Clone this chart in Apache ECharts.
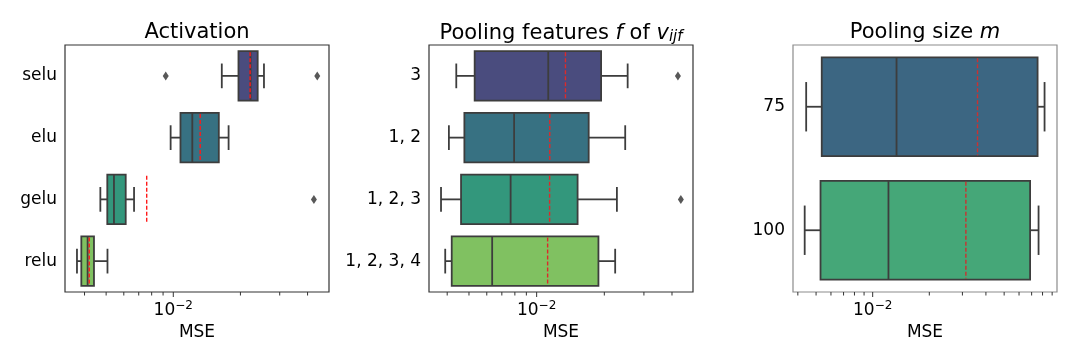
<!DOCTYPE html>
<html>
<head>
<meta charset="utf-8">
<script src="https://cdn.jsdelivr.net/npm/echarts@6/dist/echarts.min.js"></script>
<style>
html, body { margin: 0; background: #fff; }
#chart { width: 1076px; height: 354px; }
</style>
</head>
<body>
<div id="chart"></div>
<script>
// --- Activation ---
const actCats = ['selu', 'elu', 'gelu', 'relu'];
const actLow  = [1.65e-2, 9.73e-3, 4.71e-3, 3.70e-3];
const actQ1   = [1.96e-2, 1.077e-2, 5.06e-3, 3.87e-3];
const actMed  = [2.22e-2, 1.217e-2, 5.42e-3, 4.13e-3];
const actQ3   = [2.39e-2, 1.60e-2, 6.12e-3, 4.41e-3];
const actHigh = [2.55e-2, 1.77e-2, 6.67e-3, 5.07e-3];
const actMean = [2.21e-2, 1.32e-2, 7.6e-3, 4.2e-3];
const actOut  = [['selu', 9.25e-3], ['selu', 4.42e-2], ['gelu', 4.27e-2]];

// --- Pooling features ---
const featCats = ['3', '1, 2', '1, 2, 3', '1, 2, 3, 4'];
const featLow  = [4.39e-3, 4.07e-3, 3.755e-3, 3.92e-3];
const featQ1   = [5.30e-3, 4.77e-3, 4.61e-3, 4.19e-3];
const featMed  = [1.126e-2, 7.94e-3, 7.66e-3, 6.34e-3];
const featQ3   = [1.935e-2, 1.704e-2, 1.521e-2, 1.883e-2];
const featHigh = [2.54e-2, 2.477e-2, 2.275e-2, 2.235e-2];
const featMean = [1.343e-2, 1.144e-2, 1.142e-2, 1.119e-2];
const featOut  = [['3', 4.25e-2], ['1, 2, 3', 4.38e-2]];

// --- Pooling size ---
const sizeCats = ['75', '100'];
const sizeLow  = [4.43e-3, 4.35e-3];
const sizeQ1   = [5.36e-3, 5.28e-3];
const sizeMed  = [1.339e-2, 1.213e-2];
const sizeQ3   = [7.53e-2, 6.87e-2];
const sizeHigh = [8.2e-2, 7.62e-2];
const sizeMean = [3.61e-2, 3.13e-2];

// tick values of the log axes
const majorTicks = [0.01];
const minorTicks = [0.004, 0.005, 0.006, 0.007, 0.008, 0.009, 0.02, 0.03, 0.04, 0.05, 0.06, 0.07, 0.08, 0.09];

const pal4 = ['#4a4c7e', '#377182', '#33977c', '#80c161'];
const pal2 = ['#3c6682', '#45a778'];
const edge = '#3d3d3d';
const FONT = 'DejaVu Sans';

const panels = [
  { cats: actCats, low: actLow, q1: actQ1, med: actMed, q3: actQ3, high: actHigh, mean: actMean, out: actOut,
    colors: pal4, meanColor: '#ff1a1a', min: 3.27e-3, max: 4.99e-2, left: 65, spine: '#333' },
  { cats: featCats, low: featLow, q1: featQ1, med: featMed, q3: featQ3, high: featHigh, mean: featMean, out: featOut,
    colors: pal4, meanColor: '#dd2a2a', min: 3.32e-3, max: 4.96e-2, left: 429, spine: '#333' },
  { cats: sizeCats, low: sizeLow, q1: sizeQ1, med: sizeMed, q3: sizeQ3, high: sizeHigh, mean: sizeMean, out: [],
    colors: pal2, meanColor: '#cc3030', min: 3.77e-3, max: 9.55e-2, left: 793, spine: '#8c8c8c' }
];

function boxRenderer(p) {
  return function (params, api) {
    const y = api.value(0);
    const band = api.size([0, 1], [0.01, y])[1];
    const h = band * 0.8, cap = h / 2;
    const xs = [1, 2, 3, 4, 5, 6].map(function (d) { return api.coord([api.value(d), y])[0]; });
    const cy = api.coord([0.01, y])[1];
    const top = cy - h / 2, bot = cy + h / 2;
    const ln = { stroke: edge, lineWidth: 1.8 };
    return {
      type: 'group',
      children: [
        { type: 'line', shape: { x1: xs[0], y1: cy, x2: xs[1], y2: cy }, style: ln },
        { type: 'line', shape: { x1: xs[3], y1: cy, x2: xs[4], y2: cy }, style: ln },
        { type: 'line', shape: { x1: xs[0], y1: cy - cap / 2, x2: xs[0], y2: cy + cap / 2 }, style: ln },
        { type: 'line', shape: { x1: xs[4], y1: cy - cap / 2, x2: xs[4], y2: cy + cap / 2 }, style: ln },
        { type: 'rect', shape: { x: xs[1], y: top, width: xs[3] - xs[1], height: h },
          style: { fill: p.colors[params.dataIndex], stroke: edge, lineWidth: 1.8 } },
        { type: 'line', shape: { x1: xs[2], y1: top, x2: xs[2], y2: bot }, style: ln },
        { type: 'line', shape: { x1: xs[5], y1: top + 1, x2: xs[5], y2: bot - 1 },
          style: { stroke: p.meanColor, lineWidth: 1.4, lineDash: [4, 2] } }
      ]
    };
  };
}

function tickRenderer(params, api) {
  const major = api.value(1);
  const x = api.coord([api.value(0), 0])[0];
  const yb = params.coordSys.y + params.coordSys.height;
  return { type: 'line', shape: { x1: x, y1: yb, x2: x, y2: yb + (major ? 5 : 3.5) },
    style: { stroke: '#333', lineWidth: 1 } };
}

const option = { animation: false, title: [], grid: [], xAxis: [], yAxis: [], series: [] };
const titles = [
  'Activation',
  '{n|Pooling features }{i|f}{n| of }{i|v}{sub|ijf}',
  '{n|Pooling size }{i|m}'
];

panels.forEach(function (p, k) {
  option.title.push({
    text: titles[k], left: p.left + 132, top: 22, textAlign: 'center', padding: 0,
    textStyle: {
      fontFamily: FONT, fontSize: 21, fontWeight: 'normal', color: '#000',
      rich: {
        n: { fontFamily: FONT, fontSize: 21, color: '#000' },
        i: { fontFamily: FONT, fontSize: 21, fontStyle: 'italic', color: '#000' },
        sub: { fontFamily: FONT, fontSize: 15, fontStyle: 'italic', color: '#000', padding: [8, 0, 0, 0] }
      }
    }
  });
  option.grid.push({ left: p.left, top: 45, width: 264, height: 247, show: true,
    borderColor: p.spine, borderWidth: 1.2, backgroundColor: '#fff' });
  option.xAxis.push({
    type: 'log', logBase: 10, gridIndex: k, min: p.min, max: p.max,
    name: 'MSE', nameLocation: 'middle', nameGap: 27,
    nameTextStyle: { fontFamily: FONT, fontSize: 17, color: '#000' },
    axisLine: { show: false }, axisTick: { show: false }, splitLine: { show: false },
    axisLabel: {
      margin: 8,
      formatter: function (v) { return Math.abs(Math.log10(v) + 2) < 1e-6 ? '{b|10}{s|\u22122}' : ''; },
      rich: {
        b: { fontFamily: FONT, fontSize: 17, color: '#000' },
        s: { fontFamily: FONT, fontSize: 12, color: '#000', padding: [0, 0, 9, 0] }
      }
    }
  });
  option.yAxis.push({
    type: 'category', gridIndex: k, data: p.cats, inverse: true,
    axisLine: { show: false }, splitLine: { show: false },
    axisTick: { alignWithLabel: true, length: 5, lineStyle: { color: '#333' } },
    axisLabel: { margin: 8, fontFamily: FONT, fontSize: 17, color: '#000' }
  });
  const boxData = p.cats.map(function (c, i) {
    return [i, p.low[i], p.q1[i], p.med[i], p.q3[i], p.high[i], p.mean[i]];
  });
  option.series.push({
    type: 'custom', xAxisIndex: k, yAxisIndex: k, renderItem: boxRenderer(p),
    encode: { x: [1, 2, 3, 4, 5, 6], y: 0 }, data: boxData, z: 2
  });
  option.series.push({
    type: 'scatter', xAxisIndex: k, yAxisIndex: k, symbol: 'diamond',
    data: p.out.map(function (o) { return [o[1], o[0]]; }),
    symbolSize: [6, 9], itemStyle: { color: '#2e2e2e' }, z: 3
  });
  const ticks = majorTicks.map(function (v) { return [v, 1]; })
    .concat(minorTicks.map(function (v) { return [v, 0]; }))
    .filter(function (t) { return t[0] > p.min && t[0] < p.max; });
  option.series.push({
    type: 'custom', xAxisIndex: k, yAxisIndex: k, renderItem: tickRenderer,
    encode: { x: 0, y: 1 }, data: ticks, clip: false, z: 4
  });
});

const chart = echarts.init(document.getElementById('chart'));
chart.setOption(option);
</script>
</body>
</html>
